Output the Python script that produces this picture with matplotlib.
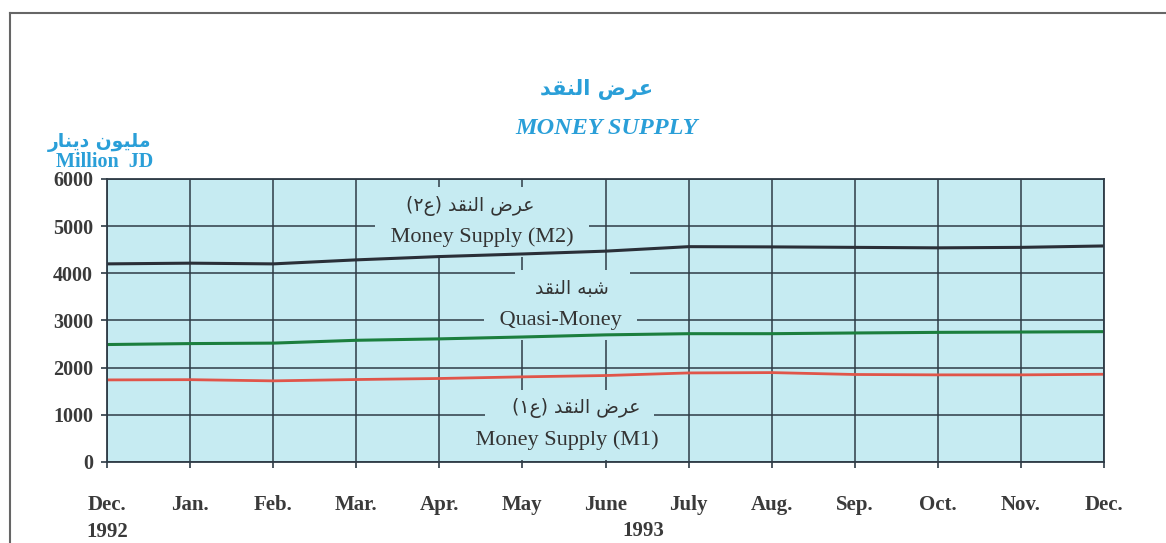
import matplotlib
matplotlib.use("Agg")
import matplotlib.pyplot as plt
from matplotlib.lines import Line2D

# ---------------- data ----------------
months = ["Dec.\n1992", "Jan.", "Feb.", "Mar.", "Apr.", "May", "June", "July",
          "Aug.", "Sep.", "Oct.", "Nov.", "Dec."]
m2 = [4200, 4215, 4200, 4285, 4355, 4410, 4470, 4565, 4560, 4550, 4540, 4550, 4580]
quasi = [2490, 2510, 2520, 2580, 2610, 2650, 2695, 2720, 2720, 2735, 2748, 2755, 2763]
m1 = [1740, 1745, 1720, 1748, 1770, 1805, 1833, 1888, 1895, 1855, 1847, 1847, 1860]
yticks = [0, 1000, 2000, 3000, 4000, 5000, 6000]

# ---------------- minimal Arabic shaping (presentation forms, visual order) ----------------
FORMS = {
    'ا': ('\uFE8D', '\uFE8E', None, None),
    'ب': ('\uFE8F', '\uFE90', '\uFE91', '\uFE92'),
    'د': ('\uFEA9', '\uFEAA', None, None),
    'ر': ('\uFEAD', '\uFEAE', None, None),
    'ش': ('\uFEB5', '\uFEB6', '\uFEB7', '\uFEB8'),
    'ض': ('\uFEBD', '\uFEBE', '\uFEBF', '\uFEC0'),
    'ع': ('\uFEC9', '\uFECA', '\uFECB', '\uFECC'),
    'ق': ('\uFED5', '\uFED6', '\uFED7', '\uFED8'),
    'ل': ('\uFEDD', '\uFEDE', '\uFEDF', '\uFEE0'),
    'م': ('\uFEE1', '\uFEE2', '\uFEE3', '\uFEE4'),
    'ن': ('\uFEE5', '\uFEE6', '\uFEE7', '\uFEE8'),
    'ه': ('\uFEE9', '\uFEEA', '\uFEEB', '\uFEEC'),
    'و': ('\uFEED', '\uFEEE', None, None),
    'ي': ('\uFEF1', '\uFEF2', '\uFEF3', '\uFEF4'),
}
DUAL = {c for c, f in FORMS.items() if f[2] is not None}


def shape(s):
    out = []
    for i, c in enumerate(s):
        if c not in FORMS:
            out.append(c)
            continue
        prev = s[i - 1] if i > 0 else ''
        nxt = s[i + 1] if i + 1 < len(s) else ''
        cp = prev in DUAL
        cn = (c in DUAL) and (nxt in FORMS)
        iso, fin, ini, med = FORMS[c]
        if cp and cn:
            g = med
        elif cp:
            g = fin
        elif cn:
            g = ini
        else:
            g = iso
        out.append(g)
    vis = ''.join(reversed(out))
    return vis.translate(str.maketrans({'(': ')', ')': '('}))


title_ar = shape("عرض النقد")
ylabel_ar = shape("مليون دينار")
m2_ar = shape("عرض النقد (ع٢)")
quasi_ar = shape("شبه النقد")
m1_ar = shape("عرض النقد (ع١)")

# ---------------- style ----------------
BG = '#c6ebf2'
GRID = '#2e3b46'
BLUE = '#2a9fd8'
TXT = '#333333'
SERIF = ['Liberation Serif', 'DejaVu Serif']
ARAB = ['DejaVu Sans']

fig = plt.figure(figsize=(11.66, 5.43), dpi=100)
ax = fig.add_axes([0.0918, 0.1492, 0.855, 0.5212])
ax.set_facecolor(BG)

x = list(range(len(months)))
ax.set_xlim(0, len(months) - 1)
ax.set_ylim(0, 6000)

# grid
for xv in x:
    ax.axvline(xv, color=GRID, lw=1.1, zorder=1)
for yv in yticks:
    ax.axhline(yv, color=GRID, lw=1.1, zorder=1)

for sp in ax.spines.values():
    sp.set_color(GRID)
    sp.set_linewidth(1.3)
    sp.set_zorder(4)

# data lines
ax.plot(x, m2, color='#2a2f38', lw=2.2, zorder=3, solid_capstyle='butt')
ax.plot(x, quasi, color='#1b7f3e', lw=2.2, zorder=3, solid_capstyle='butt')
ax.plot(x, m1, color='#e0554a', lw=2.0, zorder=3, solid_capstyle='butt')

# ticks
ax.set_yticks(yticks)
ax.set_yticklabels([str(v) for v in yticks], fontfamily=SERIF, fontweight='bold',
                   fontsize=14.5, color='#3a3a3a')
ax.set_xticks(x)
ax.set_xticklabels(months, fontfamily=SERIF, fontweight='bold', fontsize=15,
                   color='#3a3a3a', linespacing=1.45)
ax.tick_params(axis='y', direction='out', length=4, width=1.2, color=GRID, pad=6)
ax.tick_params(axis='x', direction='out', length=4, width=1.2, color=GRID, pad=20)

ax.text(6.45, -0.21, "1993", transform=ax.get_xaxis_transform(), ha='center', va='top',
        fontfamily=SERIF, fontweight='bold', fontsize=15, color='#3a3a3a')

# annotations with masking boxes
box = dict(boxstyle='square,pad=0.45', facecolor=BG, edgecolor='none')


def label(xv, yv, s, fam, size):
    ax.text(xv, yv, s, ha='center', va='center', fontfamily=fam, fontsize=size,
            color=TXT, zorder=2, bbox=box)


label(4.37, 5430, "  " + m2_ar + "  ", ARAB, 13.5)
label(4.51, 4760, " Money Supply (M2) ", SERIF, 16)
label(5.60, 3680, "  " + quasi_ar + "  ", ARAB, 13.5)
label(5.46, 3000, " Quasi-Money ", SERIF, 16)
label(5.57, 1140, "   " + m1_ar + " ", ARAB, 13.5)
label(5.54, 470, " Money Supply (M1) ", SERIF, 16)

# titles
fig.text(597 / 1166, 1 - 89 / 543, title_ar, ha='center', va='center', fontfamily=ARAB,
         fontweight='bold', fontsize=15, color=BLUE)
fig.text(607 / 1166, 1 - 129 / 543, "MONEY SUPPLY", ha='center', va='center',
         fontfamily=SERIF, fontweight='bold', fontstyle='italic', fontsize=17.5, color=BLUE)
fig.text(100 / 1166, 1 - 143 / 543, ylabel_ar, ha='center', va='center', fontfamily=ARAB,
         fontweight='bold', fontsize=13.5, color=BLUE)
fig.text(105 / 1166, 1 - 162 / 543, "Million  JD", ha='center', va='center',
         fontfamily=SERIF, fontweight='bold', fontsize=14.5, color=BLUE)

# page frame (top and left)
fig.add_artist(Line2D([10 / 1166, 1.0], [1 - 13 / 543, 1 - 13 / 543], transform=fig.transFigure,
                      color='#666666', lw=1.5))
fig.add_artist(Line2D([10 / 1166, 10 / 1166], [0.0, 1 - 13 / 543], transform=fig.transFigure,
                      color='#666666', lw=1.5))

fig.savefig("out.png", dpi=100)
